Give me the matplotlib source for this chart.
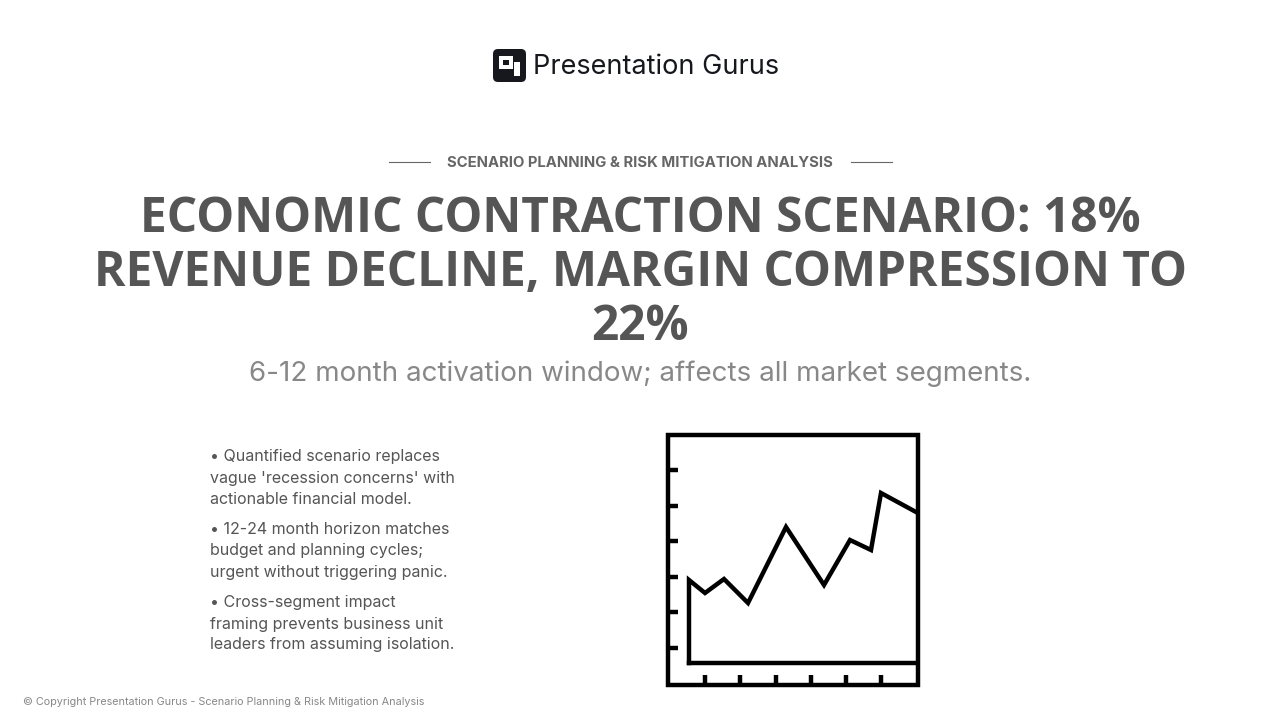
import matplotlib
matplotlib.use("Agg")
import matplotlib.pyplot as plt
from matplotlib.patches import FancyBboxPatch, Rectangle

# slide text
kicker = "SCENARIO PLANNING & RISK MITIGATION ANALYSIS"
title_lines = ["ECONOMIC CONTRACTION SCENARIO: 18%",
               "REVENUE DECLINE, MARGIN COMPRESSION TO",
               "22%"]
subtitle = "6-12 month activation window; affects all market segments."
bullets = [["• Quantified scenario replaces", "vague 'recession concerns' with", "actionable financial model."],
           ["• 12-24 month horizon matches", "budget and planning cycles;", "urgent without triggering panic."],
           ["• Cross-segment impact", "framing prevents business unit", "leaders from assuming isolation."]]
footer = "© Copyright Presentation Gurus - Scenario Planning & Risk Mitigation Analysis"

# icon line-chart series (icon units, 0..250 box, y up)
icon_x = [21, 21, 37, 56, 80, 118, 156, 182, 203, 213, 248]
icon_y = [22, 105, 92, 106, 82, 158, 100, 145, 135, 192, 173]
icon_base_x = [21, 248]
icon_yticks = [37, 73, 108, 144, 179, 215]
icon_xticks = [37, 72, 108, 143, 178, 213]

fig = plt.figure(figsize=(12.8, 7.2), dpi=100)
ax = fig.add_axes([0, 0, 1, 1])
ax.set_xlim(0, 1280)
ax.set_ylim(720, 0)
ax.axis("off")

dark = "#555555"
ink = "#16181d"

# logo
ax.add_patch(FancyBboxPatch((493, 49), 33, 33, boxstyle="round,pad=0,rounding_size=5",
                            fc=ink, ec="none"))
ax.add_patch(Rectangle((499, 56), 14, 13, fc="white", ec="none"))
ax.add_patch(Rectangle((503, 60), 6, 5, fc=ink, ec="none"))
ax.add_patch(Rectangle((514, 62), 6, 14, fc="white", ec="none"))
ax.add_patch(Rectangle((499, 71), 6, 11, fc=ink, ec="none"))
ax.text(533, 67, "Presentation Gurus", fontsize=19.5, family="Inter", color=ink,
        va="center", ha="left")

# kicker
ax.text(640, 163, kicker, fontsize=10.7, fontweight="bold", family="Inter", color="#666666",
        ha="center", va="center")
ax.plot([389, 430], [162, 162], color="#666666", lw=0.8)
ax.plot([851, 892], [162, 162], color="#666666", lw=0.8)

# title
for i, line in enumerate(title_lines):
    ax.text(640, 219 + i * 54, line, fontsize=34.5, fontweight="bold", family="Open Sans",
            color=dark, ha="center", va="center")
ax.text(640, 374, subtitle, fontsize=20, family="Inter", color="#888888",
        ha="center", va="center")

# bullets
y = 457
for b in bullets:
    for line in b:
        ax.text(210, y, line, fontsize=11.5, family="Inter", color=dark, ha="left", va="center")
        y += 21
    y += 10

ax.text(23, 702, footer, fontsize=7.8, family="Inter", color="#888888", ha="left", va="center")

# icon
iax = fig.add_axes([668 / 1280, (720 - 685) / 720, 250 / 1280, 250 / 720])
iax.set_xlim(0, 250)
iax.set_ylim(0, 250)
iax.axis("off")
lw = 3.2
iax.add_patch(Rectangle((0, 0), 250, 250, fill=False, ec="black", lw=lw, clip_on=False))
iax.plot(icon_x, icon_y, color="black", lw=lw, solid_joinstyle="miter", clip_on=False)
iax.plot(icon_base_x, [icon_y[0], icon_y[0]], color="black", lw=lw, clip_on=False)
for t in icon_yticks:
    iax.plot([0, 10], [t, t], color="black", lw=lw, solid_capstyle="butt")
for t in icon_xticks:
    iax.plot([t, t], [0, 10], color="black", lw=lw, solid_capstyle="butt")

fig.savefig("out.png", dpi=100)
